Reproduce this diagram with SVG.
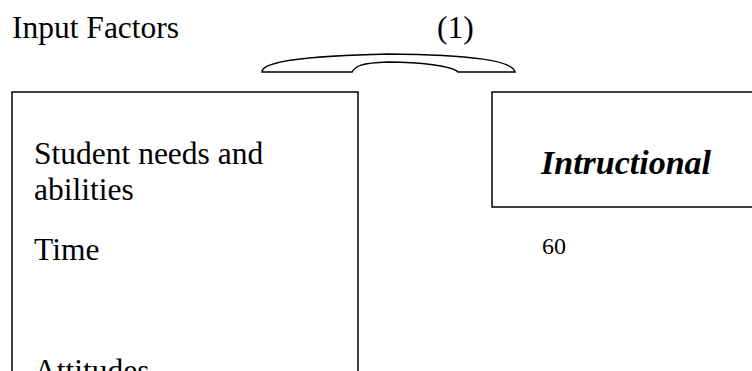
<svg xmlns="http://www.w3.org/2000/svg" width="752" height="371" viewBox="0 0 752 371">
<style>
text{font-family:"Liberation Serif","Times New Roman",serif;fill:#000}
.box{fill:#fff;stroke:#000;stroke-width:1.5}
.t{font-size:31.5px}
</style>
<rect width="752" height="371" fill="#fff"/>
<g id="title"><text class="t" x="12" y="38">Input Factors</text></g>
<g id="label1"><text class="t" x="437" y="38">(1)</text></g>
<g id="connectors">
<path d="M262,72 C262,62 300,56 388,54 C470,55 512,60 515,72 L458,72 C452,66 420,62 388,62 C360,63 356,66 352,72 Z" fill="#fff" stroke="#000" stroke-width="1.5"/>
</g>
<g id="input-box">
<rect class="box" x="12" y="92" width="346" height="300"/>
<text class="t" x="34" y="164">Student needs and</text>
<text class="t" x="34" y="200">abilities</text>
<text class="t" x="34" y="260">Time</text>
<text class="t" x="34" y="381">Attitudes</text>
</g>
<g id="instructional-box">
<rect class="box" x="492" y="92" width="280" height="115"/>
<text x="541" y="174" font-size="34" font-weight="bold" font-style="italic">Intructional</text>
</g>
<g id="page-num"><text x="542" y="254" font-size="24">60</text></g>
</svg>
